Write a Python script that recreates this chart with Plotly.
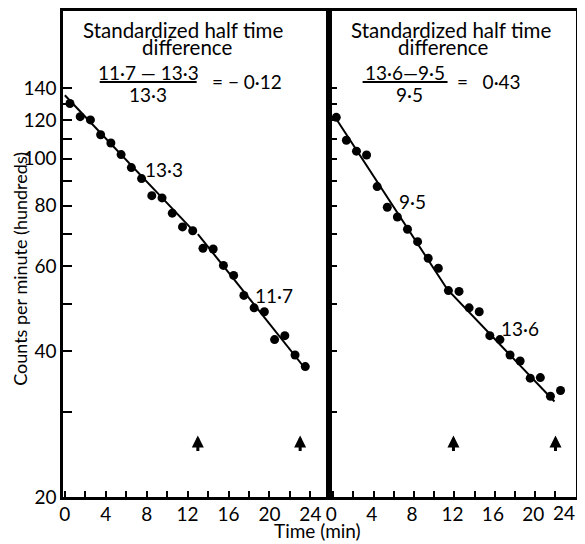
import math
import plotly.graph_objects as go

# ---------------- data ----------------
left_time = [0.5, 1.5, 2.5, 3.5, 4.5, 5.5, 6.5, 7.5, 8.5, 9.5, 10.5, 11.5,
             12.5, 13.5, 14.5, 15.5, 16.5, 17.5, 18.5, 19.5, 20.5, 21.5, 22.5, 23.5]
left_counts = [130.1, 122.2, 120.3, 112.1, 107.8, 102.0, 95.9, 91.0, 83.9, 83.0, 77.2, 72.3,
               71.0, 65.3, 65.1, 60.2, 57.4, 52.2, 49.2, 48.3, 42.3, 43.1, 39.3, 37.2]

right_time = [0.3, 1.3, 2.3, 3.3, 4.35, 5.35, 6.35, 7.35, 8.35, 9.4, 10.4, 11.4,
              12.45, 13.45, 14.45, 15.5, 16.5, 17.5, 18.5, 19.5, 20.5, 21.5, 22.5]
right_counts = [121.8, 109.2, 103.7, 101.8, 87.6, 79.4, 75.8, 71.5, 67.4, 62.3, 59.4, 53.4,
                53.2, 49.2, 48.3, 43.1, 42.3, 39.3, 38.2, 35.2, 35.3, 32.3, 33.2]

left_fit1_time = [0.0, 12.5]
left_fit1_counts = [135.3, 71.2]
left_fit2_time = [13.0, 23.6]
left_fit2_counts = [69.9, 36.6]
right_fit_time = [0.14, 11.3, 21.9]
right_fit_counts = [122.3, 53.7, 31.5]

left_arrow_time = [13.0, 23.0]
right_arrow_time = [11.9, 22.0]
arrow_tip_counts = 26.8

y_tick_vals = [20, 30, 40, 50, 60, 70, 80, 90, 100, 110, 120, 130, 140]
y_tick_text = ["20", "", "40", "", "60", "", "80", "", "100", "", "120", "", "140"]
x_tick_vals = [0, 2, 4, 6, 8, 10, 12, 14, 16, 18, 20, 22, 24]
x_tick_text = ["0", "", "4", "", "8", "", "12", "", "16", "", "20", "", "24"]
# right panel: the final "24" label sits flush with the page edge, drawn separately
x2_tick_text = ["0", "", "4", "", "8", "", "12", "", "16", "", "20", "", ""]
x2_last_tick = 24
x2_last_label = "24"

left_half_times = ["13·3", "11·7"]
right_half_times = ["9·5", "13·6"]

# ---------------- layout helpers ----------------
PAGE_W, PAGE_H = 585, 544
BODY = 8  # page body margin offset of the figure
W, H = PAGE_W - BODY, PAGE_H - BODY
PL, PR, PT, PB = 63.3, 576.5, 8.0, 497.5   # target plot area, page pixels
SPLIT = 329.0
split_frac = (SPLIT - PL) / (PR - PL)
FONT = "Lato"


def px(x):
    return (x - PL) / (PR - PL)


def py(y):
    return (PB - y) / (PB - PT)


fig = go.Figure()

mk = dict(color="black", size=9)
ln = dict(color="black", width=2)

fig.add_trace(go.Scatter(x=left_time, y=left_counts, mode="markers", marker=mk,
                         xaxis="x", yaxis="y", showlegend=False))
fig.add_trace(go.Scatter(x=left_fit1_time, y=left_fit1_counts, mode="lines", line=ln,
                         xaxis="x", yaxis="y", showlegend=False))
fig.add_trace(go.Scatter(x=left_fit2_time, y=left_fit2_counts, mode="lines", line=ln,
                         xaxis="x", yaxis="y", showlegend=False))
fig.add_trace(go.Scatter(x=right_time, y=right_counts, mode="markers", marker=mk,
                         xaxis="x2", yaxis="y2", showlegend=False))
fig.add_trace(go.Scatter(x=right_fit_time, y=right_fit_counts, mode="lines", line=ln,
                         xaxis="x2", yaxis="y2", showlegend=False))

yrange = [math.log10(20), math.log10(202)]
tickfont = dict(family=FONT, size=19, color="black")

axis_common = dict(showline=True, linecolor="black", linewidth=2.5, mirror=True,
                   ticks="inside", tickcolor="black", showgrid=False, zeroline=False,
                   tickfont=tickfont)

fig.update_layout(
    width=W, height=H,
    margin=dict(l=PL - BODY, r=PAGE_W - PR, t=PT - BODY, b=PAGE_H - PB, pad=0),
    paper_bgcolor="white", plot_bgcolor="white",
    font=dict(family=FONT, color="black"),
    xaxis=dict(domain=[0, split_frac], range=[-0.18, 25.78], anchor="y",
               tickvals=x_tick_vals, ticktext=x_tick_text, ticklen=6, tickwidth=2,
               ticklabelstandoff=-2, ticklabeloverflow="allow", **axis_common),
    xaxis2=dict(domain=[split_frac, 1], range=[-0.46, 24.03], anchor="y2",
                tickvals=x_tick_vals, ticktext=x2_tick_text, ticklen=6, tickwidth=2,
                ticklabelstandoff=-2, ticklabelshift=-2, ticklabeloverflow="allow",
                **axis_common),
    yaxis=dict(type="log", range=yrange, anchor="x",
               tickvals=y_tick_vals, ticktext=y_tick_text, ticklen=9, tickwidth=2,
               **axis_common),
    yaxis2=dict(type="log", range=yrange, anchor="x2", showticklabels=False,
                tickvals=y_tick_vals, ticklen=9, tickwidth=2, **axis_common),
)

ann = []


def text(x, y, s, size=19, **kw):
    ann.append(dict(x=px(x), y=py(y), xref="paper", yref="paper", text=s,
                    showarrow=False, xanchor="center", yanchor="middle",
                    font=dict(family=FONT, size=size, color="black"), **kw))


# headings
text(183, 27, "Standardized half time", size=20.5)
text(187, 44, "difference", size=20.5)
text(451, 27, "Standardized half time", size=20.5)
text(443, 44, "difference", size=20.5)
# fractions
text(148.5, 70, "11·7 — 13·3")
text(148.5, 92, "13·3")
text(247, 79, "= − 0·12")
text(405.5, 70, "13·6—9·5")
text(409.5, 92, "9·5")
text(489, 79, "=   0·43")
# half-time labels in plot
text(164, 167.5, left_half_times[0])
text(274, 294.5, left_half_times[1])
text(413, 200, right_half_times[0])
text(520.5, 328, right_half_times[1])
# axis titles
text(318.3, 531.7, "Time (min)")
text(20, 268, "Counts per minute (hundreds)", size=18, textangle=-90)

# last tick label of the right panel, anchored at its tick
ann.append(dict(x=x2_last_tick, xref="x2", y=py(513), yref="paper", text=x2_last_label,
                showarrow=False, xanchor="right", yanchor="middle", xshift=1,
                font=dict(family=FONT, size=19, color="black")))

# arrows
for xa, ya, times in [("x", "y", left_arrow_time), ("x2", "y2", right_arrow_time)]:
    for t in times:
        ann.append(dict(x=t, y=math.log10(arrow_tip_counts), xref=xa, yref=ya, text="",
                        showarrow=True, ax=0, ay=17, arrowhead=2, arrowsize=0.8,
                        arrowwidth=3, arrowcolor="black"))

fig.update_layout(annotations=ann)

# fraction bars
shapes = []
for x0, x1 in [(100, 197), (363, 448)]:
    shapes.append(dict(type="line", xref="paper", yref="paper",
                       x0=px(x0), x1=px(x1), y0=py(79.5), y1=py(79.5),
                       line=dict(color="black", width=2)))
fig.update_layout(shapes=shapes)

fig.write_html("out.html")
